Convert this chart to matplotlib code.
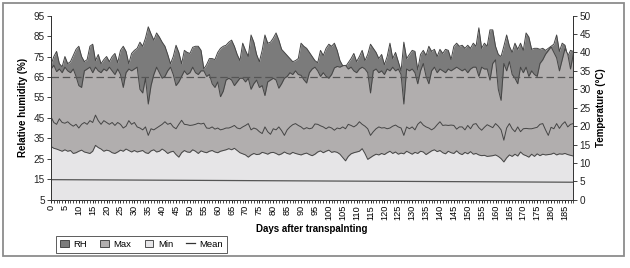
import numpy as np
import matplotlib
matplotlib.use("Agg")
import matplotlib.pyplot as plt
from matplotlib.patches import Patch, Rectangle
from matplotlib.lines import Line2D

plt.rcParams['font.family'] = ['Liberation Sans Narrow', 'Liberation Sans', 'DejaVu Sans']

# daily values, days 0..188
rh = [71, 75, 77.5, 71.5, 70, 75, 71.5, 72.5, 75.5, 78.5,
      80, 75, 72.5, 73.5, 80, 81, 73, 76, 71.5, 73.5,
      75, 72.5, 75, 76.5, 72, 78, 80, 77.5, 71.5, 76.5,
      78, 79, 82, 80, 84, 89.5, 86, 83, 86.5, 84.5,
      82, 80, 76, 71.5, 75, 80.5, 77, 71.5, 78, 77,
      76.5, 79.5, 80, 80, 78, 69, 71, 74, 74, 73.5,
      77, 79, 80, 80.5, 82, 83, 80, 76, 73, 81.5,
      78, 75, 85.5, 82, 76, 72.5, 78, 85.5, 81.5, 82,
      84, 86.5, 83, 78.5, 77, 75.5, 74, 72.5, 73, 74,
      81.5, 80, 79, 77, 75, 73, 72, 78, 75.5, 79,
      81, 80, 81.5, 78, 73, 70.5, 70, 72, 74, 76.5,
      72.5, 75, 78, 73, 76, 81, 79, 77, 74, 76,
      71, 75, 81.5, 74, 77, 72.5, 68, 82, 74, 76,
      78, 77.5, 68.5, 76, 78, 75.5, 80, 77.5, 78.5, 75,
      78.5, 76.5, 78.5, 78, 73.5, 80, 81.5, 80, 80.5, 79,
      80.5, 79, 81.5, 80, 89, 79, 81.5, 80, 88, 88,
      80, 76, 75, 80, 85.5, 80, 77, 81.5, 78.5, 81.5,
      78, 86.5, 84.5, 78.5, 79, 79, 78.5, 79, 78, 79,
      80, 81, 85.5, 77.5, 81.5, 80.5, 75, 78, 77.5]

t_max = [35.5, 36.5, 34.8, 35.5, 34.5, 36, 35, 34.5, 35.5, 33.5,
         31, 30.5, 35, 35.5, 36, 34.5, 36, 35, 34.5, 35.5,
         35, 36, 35, 34, 35.5, 34, 30.5, 34.5, 35.5, 35,
         35.5, 36, 30, 29, 33, 26, 31, 34, 36, 34.5,
         33, 33.5, 35, 36, 34, 31, 32, 33.5, 35, 34,
         34.5, 36, 34.5, 34, 35, 35, 33.5, 34, 31.5, 30.5,
         32, 28, 29.5, 32.5, 33, 32.5, 31, 32, 33, 33,
         32, 33, 30, 31.5, 32.5, 30.5, 31, 28.3, 32, 32.5,
         33, 32.5, 30.3, 31.5, 33, 33.5, 34.5, 34, 35, 34,
         33.8, 32.6, 31.7, 34.5, 35.5, 36, 35, 33.5, 34.5, 33.5,
         33, 34, 35.8, 36.2, 36, 36.4, 36.5, 35.5, 36, 35,
         34.5, 35.5, 36, 35.5, 34.5, 29, 35, 35.5, 34.5, 35,
         34, 35.5, 35, 36, 35, 35.5, 34, 26, 35.5, 35,
         35.5, 34.5, 31.5, 35, 37, 33.5, 31.5, 35, 36, 34.5,
         35.5, 35, 34.5, 35.5, 35, 35.5, 36, 35.5, 35, 35.5,
         34.5, 35.5, 36, 36, 33.5, 36, 35.5, 35.5, 32.5, 37,
         38, 30, 27, 37, 35, 37.5, 34, 33, 31.5, 36,
         34.5, 36, 33.5, 35, 34, 33.5, 37, 38, 39.5, 40.5,
         41.5, 40, 38.5, 35, 38, 41, 39.5, 35.5, 39.5]

t_mean = [22.5, 21, 20.5, 22, 21, 20.8, 21.2, 20.5, 20, 20.5,
          19.5, 20.5, 21, 20.5, 21.5, 21, 23, 21.5, 20.5, 21.5,
          21, 20.5, 21, 20.2, 21, 20.5, 19.5, 20, 21.5, 20.5,
          21, 19.8, 19.5, 19, 19.8, 17.5, 19.3, 19, 19.5, 20,
          20.5, 21.2, 20.5, 20.8, 19.8, 19.3, 20.5, 21.6, 20.5, 20.4,
          20.2, 20.3, 20.5, 20.8, 20.6, 20.8, 19.5, 19.4, 19.8, 19.2,
          19.5, 19, 19.2, 19.5, 19.5, 19.8, 20.2, 19.5, 19.3, 19.8,
          20.2, 20.7, 19, 19.5, 19.2, 18.5, 18, 19.8, 18.5, 17.8,
          19.3, 19, 19.8, 18.8, 17.5, 19, 19.8, 20.4, 20.7, 20.2,
          19.8, 19.2, 19.6, 19.3, 19.5, 20.6, 20.5, 20.1, 19.8, 19.3,
          19.8, 19.5, 18.9, 19.5, 19.3, 19.8, 19.3, 20.5, 20.2, 19.8,
          20.3, 21.2, 20.5, 20, 19.3, 17.5, 18.5, 19.3, 19.8, 19.5,
          19.6, 19.3, 19.5, 20, 20.3, 19.8, 19.5, 17.5, 19.8, 19.3,
          19.8, 19, 20.5, 21.2, 20.3, 19.8, 19.5, 19, 19.5, 20.4,
          21.2, 20.2, 20.3, 20.2, 20.3, 20.2, 19.2, 19.8, 19.8, 19,
          20.2, 19.3, 20.5, 20.7, 19.6, 18.9, 19.7, 20.4, 20, 19.6,
          20.7, 20, 19, 16.2, 19.5, 20.7, 19.3, 18.5, 19.8, 18.5,
          19.3, 19.4, 19.3, 19.3, 19.5, 19.7, 20.5, 20.7, 19, 17.5,
          19.7, 19.3, 20.7, 19.4, 20.5, 21.2, 19.8, 20.5, 20.7]

t_min = [14.5, 14, 13.8, 13.5, 13.2, 13.6, 13.2, 13.4, 12.6, 12.8,
         13.2, 13.5, 13.0, 12.8, 12.6, 13.2, 14.8, 14.2, 13.8, 13.2,
         13.5, 13.3, 12.8, 12.6, 13.0, 13.5, 13.2, 13.8, 13.4, 13.0,
         13.4, 13.0, 13.2, 13.4, 12.8, 12.6, 13.3, 13.6, 13.0, 13.2,
         13.8, 13.3, 12.6, 13.0, 13.2, 12.3, 11.6, 12.8, 13.4, 13.0,
         12.9, 13.6, 13.2, 12.6, 13.3, 13.0, 12.8, 13.2, 13.4, 13.0,
         12.8, 13.2, 13.4, 13.6, 13.9, 13.6, 14.0, 13.4, 12.8, 12.5,
         12.2, 11.6, 12.2, 12.6, 12.3, 12.4, 12.9, 12.7, 12.4, 12.8,
         12.9, 12.6, 12.2, 12.5, 13.0, 12.6, 12.4, 12.9, 12.6, 12.4,
         12.2, 12.5, 12.7, 12.3, 12.0, 12.4, 13.0, 13.3, 12.8, 13.2,
         13.5, 12.9, 13.1, 12.9, 12.4, 11.5, 10.6, 11.8, 12.5, 12.8,
         13.0, 13.2, 13.9, 12.6, 11.0, 11.5, 12.0, 12.4, 12.2, 12.6,
         12.3, 12.8, 13.2, 12.6, 13.0, 12.4, 12.7, 12.5, 13.2, 12.8,
         12.4, 12.9, 12.6, 13.2, 13.0, 12.3, 12.8, 13.3, 13.6, 13.1,
         13.4, 12.8, 12.5, 13.2, 12.8, 12.6, 13.3, 12.6, 12.3, 12.9,
         12.5, 13.1, 12.4, 12.6, 12.2, 12.0, 12.1, 11.8, 11.9, 12.0,
         12.2, 11.8, 11.2, 10.3, 11.4, 12.2, 11.8, 12.4, 11.9, 13.0,
         12.3, 12.0, 11.6, 12.4, 11.8, 12.5, 12.0, 12.4, 12.2, 12.3,
         12.4, 12.7, 12.2, 12.5, 12.4, 12.6, 12.3, 12.1, 11.9]

days = np.arange(len(rh))

rh_mean = 65            # dashed reference line (%)
base_line = [5.5, 4.8]  # flat line near the bottom (°C), first and last day

c_rh = '#7b7b7b'
c_max = '#b1aeae'
c_min = '#e6e5e7'
c_edge = '#454545'

fig = plt.figure(figsize=(6.3, 2.68), dpi=100)
ax = fig.add_axes([0.081, 0.254, 0.829, 0.688])
ax2 = ax.twinx()

# RH area on the left axis
ax.fill_between(days, 5, rh, color=c_rh, lw=0)
ax.plot(days, rh, color=c_edge, lw=0.7)

# temperature areas on the right axis
ax2.fill_between(days, 0, t_max, color=c_max, lw=0)
ax2.plot(days, t_max, color=c_edge, lw=0.7)
ax2.fill_between(days, 0, t_min, color=c_min, lw=0)
ax2.plot(days, t_min, color=c_edge, lw=0.7)
ax2.plot(days, t_mean, color=c_edge, lw=0.7)
ax2.plot([days[0], days[-1]], base_line, color='#555555', lw=0.9)
ax2.plot([days[0], days[-1]], [rh_mean, rh_mean], color='#555555', lw=0.9,
         ls=(0, (6, 3)), transform=ax.transData)

ax.set_xlim(0, 188)
ax.set_ylim(5, 95)
ax2.set_ylim(0, 50)
ax.set_yticks(np.arange(5, 96, 10))
ax2.set_yticks(np.arange(0, 51, 5))
ax.set_xticks(np.arange(0, 186, 5))
ax.set_xticks(np.arange(0, 189, 1), minor=True)
ax.tick_params(axis='x', labelrotation=90, labelsize=6.6, length=2.5, width=0.6, pad=1)
ax.tick_params(axis='x', which='minor', length=2, width=0.5)
ax.tick_params(axis='y', labelsize=7.2, length=3, width=0.6, pad=1.5, colors='#222222')
ax2.tick_params(axis='y', labelsize=7.2, length=3, width=0.6, pad=1.5, colors='#222222')

for a in (ax, ax2):
    a.spines['top'].set_visible(False)
    for s in ('left', 'right', 'bottom'):
        a.spines[s].set_linewidth(0.7)
        a.spines[s].set_color('#333333')

ax.set_xlabel('Days after transpalnting', fontsize=7, fontweight='bold', labelpad=3)
ax.set_ylabel('Relative humidity (%)', fontsize=7, fontweight='bold', labelpad=4)
ax2.set_ylabel('Temperature (°C)', fontsize=7, fontweight='bold', labelpad=4)

handles = [Patch(facecolor=c_rh, edgecolor='#333333', lw=0.6),
           Patch(facecolor=c_max, edgecolor='#333333', lw=0.6),
           Patch(facecolor=c_min, edgecolor='#333333', lw=0.6),
           Line2D([], [], color='#333333', lw=0.9)]
leg = fig.legend(handles, ['RH', 'Max', 'Min', 'Mean'], loc='lower left',
                 bbox_to_anchor=(0.082, 0.04), ncol=4, fontsize=6.8,
                 frameon=True, fancybox=False, edgecolor='#333333',
                 handlelength=0.9, handleheight=0.9, columnspacing=1.4,
                 handletextpad=0.5, borderpad=0.4)
leg.get_frame().set_linewidth(0.7)

# outer frame around the figure
fig.patches.append(Rectangle((0.004, 0.045), 0.986, 0.944, transform=fig.transFigure,
                             fill=False, edgecolor='#8c8c8c', lw=1.3))

fig.savefig('out.png', dpi=100)
